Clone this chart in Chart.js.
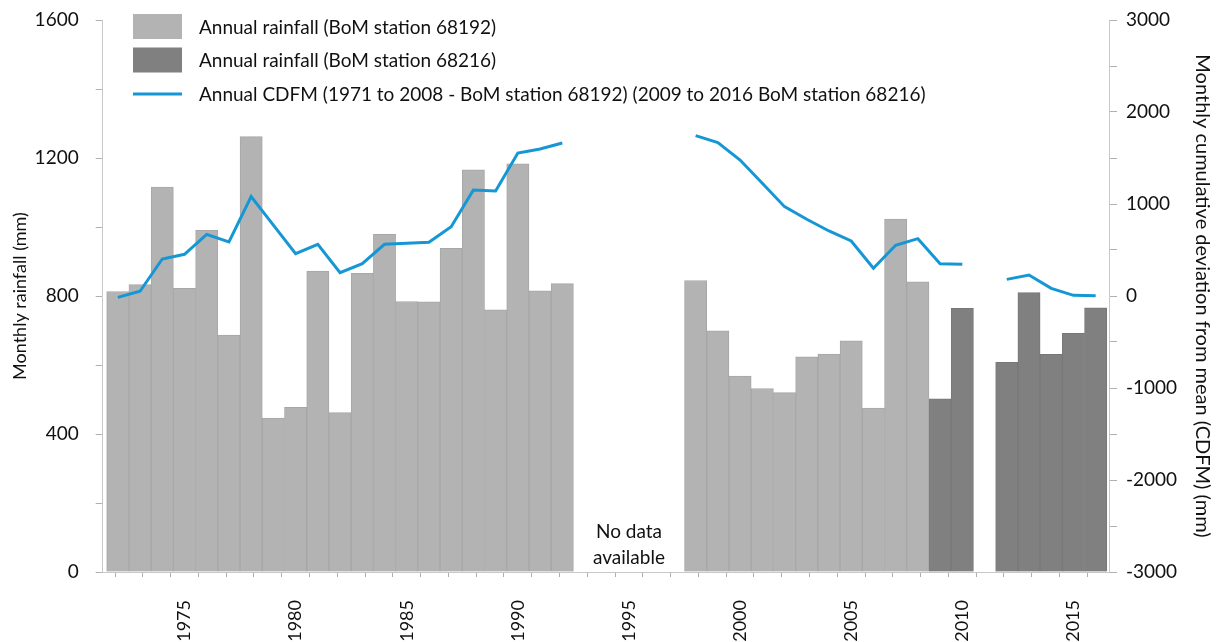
<!DOCTYPE html>
<html>
<head>
<meta charset="utf-8">
<script src="https://cdn.jsdelivr.net/npm/chart.js@4.4.1/dist/chart.umd.min.js"></script>
<style>
  html, body { margin: 0; padding: 0; background: #fff; }
  #wrap { width: 1223px; height: 642px; }
</style>
</head>
<body>
<div id="wrap"><canvas id="rainChart"></canvas></div>
<script>
// Years on the x axis
const years = [1972, 1973, 1974, 1975, 1976, 1977, 1978, 1979, 1980, 1981,
               1982, 1983, 1984, 1985, 1986, 1987, 1988, 1989, 1990, 1991,
               1992, 1993, 1994, 1995, 1996, 1997, 1998, 1999, 2000, 2001,
               2002, 2003, 2004, 2005, 2006, 2007, 2008, 2009, 2010, 2011,
               2012, 2013, 2014, 2015, 2016];

// Annual rainfall (mm), BoM station 68192
const rain68192 = [813, 833, 1116, 822, 991, 687, 1262, 446, 477, 872,
                   462, 866, 979, 784, 783, 938, 1166, 760, 1183, 815,
                   836, null, null, null, null, null, 845, 699, 568, 532,
                   520, 624, 632, 670, 475, 1023, 841, null, null, null,
                   null, null, null, null, null];

// Annual rainfall (mm), BoM station 68216
const rain68216 = [null, null, null, null, null, null, null, null, null, null,
                   null, null, null, null, null, null, null, null, null, null,
                   null, null, null, null, null, null, null, null, null, null,
                   null, null, null, null, null, null, null, 502, 764, null,
                   608, 810, 631, 692, 766];

// Cumulative deviation from mean (mm)
const cdfm = [-15, 51, 402, 453, 670, 587, 1080, 770, 460, 562,
              253, 351, 562, 573, 584, 753, 1152, 1141, 1554, 1598,
              1663, null, null, null, null, null, 1743, 1667, 1478, 1225,
              971, 834, 707, 598, 301, 551, 623, 351, 344, null,
              181, 228, 83, 7, 3];

const seriesLabels = [
    'Annual rainfall (BoM station 68192)',
    'Annual rainfall (BoM station 68216)',
    'Annual CDFM (1971 to 2008 - BoM station 68192) (2009 to 2016 BoM station 68216)'
];
const noDataYear = 1995;

const fontName = 'Lato, "DejaVu Sans", sans-serif';

function points(values) {
    return years.map((yr, i) => ({ x: yr, y: values[i] }));
}

// stop Chart.js from adding label overflow padding round the plot
function noPad(scale) {
    scale.paddingTop = 0;
    scale.paddingBottom = 0;
    scale.paddingLeft = 0;
    scale.paddingRight = 0;
}

// legend inside the plot + "No data available" note
const overlayPlugin = {
    id: 'overlay',
    afterDatasetsDraw(chart) {
        const ctx = chart.ctx;
        const area = chart.chartArea;
        ctx.save();
        ctx.font = '19px ' + fontName;
        ctx.fillStyle = '#111';
        ctx.textAlign = 'center';
        ctx.textBaseline = 'middle';
        const cx = chart.scales.x.getPixelForValue(noDataYear);
        ctx.fillText('No data', cx, area.bottom - 40);
        ctx.fillText('available', cx, area.bottom - 14);

        ctx.textAlign = 'left';
        const rows = [26.5, 60, 94];
        chart.data.datasets.forEach((ds, i) => {
            const y = rows[i];
            if (ds.type === 'line') {
                ctx.strokeStyle = ds.borderColor;
                ctx.lineWidth = 3;
                ctx.beginPath();
                ctx.moveTo(133, y);
                ctx.lineTo(182, y);
                ctx.stroke();
            } else {
                ctx.fillStyle = ds.backgroundColor;
                ctx.fillRect(133, y - 12.5, 49, 25);
            }
            ctx.fillStyle = '#111';
            ctx.fillText(ds.label, 199, y + 1);
        });
        ctx.restore();
    }
};

const rainChart = new Chart(document.getElementById('rainChart'), {
    type: 'bar',
    data: {
        datasets: [{
            label: seriesLabels[0],
            data: points(rain68192),
            backgroundColor: '#b3b3b3',
            borderColor: '#a7a7a7',
            borderWidth: 1,
            grouped: false,
            barPercentage: 1,
            categoryPercentage: 1,
            yAxisID: 'y',
            order: 2
        }, {
            label: seriesLabels[1],
            data: points(rain68216),
            backgroundColor: '#808080',
            borderColor: '#777777',
            borderWidth: 1,
            grouped: false,
            barPercentage: 1,
            categoryPercentage: 1,
            yAxisID: 'y',
            order: 2
        }, {
            type: 'line',
            label: seriesLabels[2],
            data: points(cdfm),
            borderColor: '#1597d5',
            borderWidth: 3,
            pointRadius: 0,
            spanGaps: false,
            tension: 0,
            yAxisID: 'y2',
            order: 1
        }]
    },
    options: {
        responsive: true,
        maintainAspectRatio: false,
        animation: false,
        layout: { padding: { top: 20, left: 0, right: 0, bottom: 0 } },
        plugins: {
            legend: { display: false },
            tooltip: { enabled: false }
        },
        scales: {
            x: {
                type: 'linear',
                offset: false,
                min: 1971.32,
                max: 2016.6,
                afterBuildTicks: (scale) => {
                    scale.ticks = scale.ticks.filter(t => Math.abs(t.value / 1.25 - Math.round(t.value / 1.25)) < 1e-6);
                },
                afterFit: (scale) => { scale.height = 70; noPad(scale); },
                ticks: {
                    stepSize: 1.25,
                    autoSkip: false,
                    minRotation: 90,
                    maxRotation: 90,
                    padding: 23,
                    color: '#111',
                    font: { family: fontName, size: 18 },
                    callback: (v) => (Math.abs(v % 5) < 1e-6 ? String(v) : '')
                },
                grid: { drawOnChartArea: false, tickLength: 5, color: '#b0b0b0' },
                border: { color: '#c8c8c8' }
            },
            y: {
                position: 'left',
                min: 0,
                max: 1600,
                afterFit: (scale) => { scale.width = 102.7; noPad(scale); },
                ticks: {
                    stepSize: 200,
                    padding: 17,
                    color: '#111',
                    font: { family: fontName, size: 19 },
                    callback: (v) => (v % 400 === 0 ? String(v) : '')
                },
                grid: { drawOnChartArea: false, tickLength: 7, color: '#b0b0b0' },
                border: { color: '#c8c8c8' },
                title: {
                    display: true,
                    text: 'Monthly rainfall (mm)',
                    color: '#111',
                    font: { family: fontName, size: 18 },
                    padding: { top: 9, bottom: 0 }
                }
            },
            y2: {
                position: 'right',
                min: -3000,
                max: 3000,
                afterFit: (scale) => { scale.width = 114; noPad(scale); },
                ticks: {
                    stepSize: 500,
                    padding: 9,
                    color: '#111',
                    font: { family: fontName, size: 19 },
                    callback: (v) => (v % 1000 === 0 ? String(v) : '')
                },
                grid: { drawOnChartArea: false, tickLength: 8, color: '#b0b0b0' },
                border: { color: '#c8c8c8' },
                title: {
                    display: true,
                    text: 'Monthly cumulative deviation from mean (CDFM) (mm)',
                    color: '#111',
                    font: { family: fontName, size: 20 },
                    padding: { top: 9, bottom: 0 }
                }
            }
        }
    },
    plugins: [overlayPlugin]
});
</script>
</body>
</html>
